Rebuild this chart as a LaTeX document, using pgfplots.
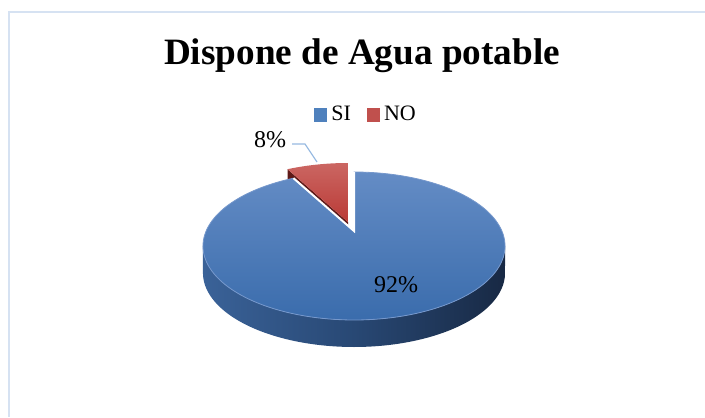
\documentclass[border=0pt]{standalone}
\usepackage{pgfplots}
\pgfplotsset{compat=1.18}
\usepackage{pgfplotstable}
\usepackage{fontspec}
\setmainfont{Liberation Serif}
\definecolor{sitop}{RGB}{100,140,197}
\definecolor{sibot}{RGB}{58,108,172}
\definecolor{siedge}{RGB}{118,152,204}
\definecolor{sideL}{RGB}{58,98,152}
\definecolor{sideM}{RGB}{40,72,116}
\definecolor{sideR}{RGB}{24,41,68}
\definecolor{notop}{RGB}{203,102,98}
\definecolor{nobot}{RGB}{186,58,54}
\definecolor{nodark}{RGB}{95,26,24}
\definecolor{siLeg}{RGB}{79,129,189}
\definecolor{noLeg}{RGB}{192,80,77}
\definecolor{framec}{RGB}{214,226,242}
\definecolor{leader}{RGB}{150,185,225}

\pgfplotstableread{
label value
SI 92
NO 8
}\piedata
\pgfplotstablegetelem{0}{value}\of\piedata \let\vSI\pgfplotsretval
\pgfplotstablegetelem{1}{value}\of\piedata \let\vNO\pgfplotsretval
\pgfmathsetmacro\aEnd{90+360*\vNO/(\vSI+\vNO)}

\begin{document}
\begin{tikzpicture}
\begin{axis}[
  scale only axis, width=352.5pt, height=208.5pt,
  xmin=0, xmax=705, ymin=0, ymax=417, y dir=reverse,
  hide axis, clip=false,
  declare function={
    px(\a)=354+147.9*cos(\a)/(1+0.2027*sin(\a));
    py(\a)=231-70.96*sin(\a)/(1+0.2027*sin(\a));
    ph(\t)=191.7+156.6*(1-abs(1-\t));
  },
  legend style={at={(axis cs:367,115)}, anchor=center, draw=none, fill=none,
    legend columns=2, font=\fontsize{11}{13}\selectfont,
    /tikz/every even column/.append style={column sep=6pt}},
  legend image code/.code={\fill[#1] (0pt,-3.3pt) rectangle (6.6pt,3.3pt);},
]
% frame
\draw[framec, line width=1pt] (axis cs:9,417) -- (axis cs:9,12) -- (axis cs:705,12);

% NO slice cut wall (exploded)
\addplot[forget plot, fill=nodark, draw=none, samples at={0,1,2,3}, variable=\t]
  ({348+(px(\aEnd)-6-348)*(\t>0)*(\t<3)},
   {222+(py(\aEnd)-9-222)*(\t>0)*(\t<3)+27*(\t>1)}) -- cycle;
% NO slice top
\addplot[forget plot, domain=90:\aEnd, samples=25, draw=none, top color=notop, bottom color=nobot]
  ({px(x)-6},{py(x)-9}) -- (axis cs:348,222) -- cycle;

% SI side wall
\addplot[forget plot, domain=0:2, samples=201, variable=\t, draw=none,
  left color=sideL, right color=sideR, middle color=sideM]
  ({px(ph(\t))},{py(ph(\t))+27*(\t>1)}) -- cycle;
% SI top
\addplot[forget plot, domain=\aEnd:450, samples=160, top color=sitop, bottom color=sibot,
  draw=siedge, line width=0.4pt]
  ({px(x)},{py(x)}) -- (axis cs:354,231) -- cycle;
% white cut edges of SI
\addplot[forget plot, white, line width=1pt, samples at={0,1,2}, variable=\t]
  ({354+(px(\aEnd)-354)*(\t==0)},
   {231+(py(\aEnd)-231)*(\t==0)+(py(90)-231)*(\t==2)});

% leader line
\addplot[forget plot, leader, line width=0.6pt] coordinates {(292,144) (305,144) (317,162)};

\node[font=\fontsize{12}{14}\selectfont] at (axis cs:270,140) {8\%};
\node[font=\fontsize{12}{14}\selectfont] at (axis cs:396,285) {92\%};

\node[font=\bfseries\fontsize{18.6}{22}\selectfont, anchor=base] at (axis cs:362,65) {Dispone de Agua potable};

\addlegendimage{fill=siLeg, draw=none}
\addlegendentry{SI}
\addlegendimage{fill=noLeg, draw=none}
\addlegendentry{NO}
\end{axis}
\pgfresetboundingbox
\path (current axis.south west) rectangle (current axis.north east);
\end{tikzpicture}
\end{document}
